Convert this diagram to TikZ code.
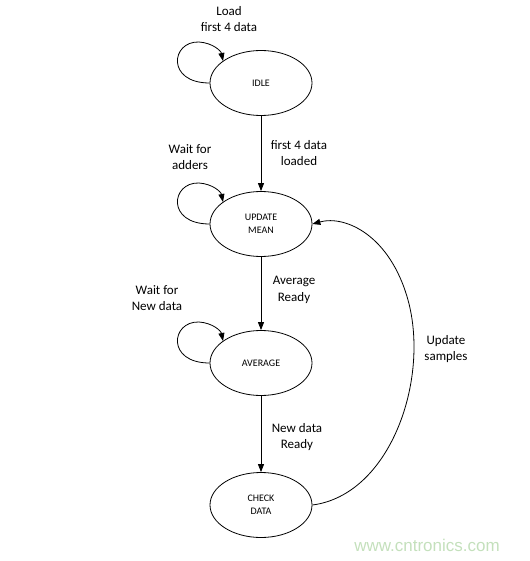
\documentclass[tikz,border=0pt]{standalone}
\usepackage{fontspec}
\setmainfont{Carlito}
\newfontfamily\wmfont{Liberation Sans}
\usetikzlibrary{arrows.meta,shapes.geometric,calc}
\definecolor{wmgreen}{RGB}{196,224,188}
\begin{document}
\begin{tikzpicture}[x=1pt,y=-1pt,
  state/.style={draw,line width=0.8pt,ellipse,minimum width=102pt,minimum height=65pt,inner sep=0pt,align=center,font=\fontsize{10}{13}\selectfont},
  lbl/.style={align=center,font=\fontsize{13}{16.5}\selectfont,inner sep=0pt},
  arr/.style={line width=0.8pt,-{Triangle[length=8pt,width=6pt]}}]
\useasboundingbox (0,0) rectangle (529,561);
\node[state] (idle) at (261,83) {IDLE};
\node[state] (upd) at (261,224) {UPDATE\\MEAN};
\node[state] (avg) at (261,363) {AVERAGE};
\node[state] (chk) at (261,505) {CHECK\\DATA};
\draw[arr] (idle) -- (upd);
\draw[arr] (upd) -- (avg);
\draw[arr] (avg) -- (chk);
\draw[arr] (chk.east) .. controls (390,495) and (430,380) .. (408,300) .. controls (390,235) and (345,215) .. (upd.east);
\foreach \n in {idle,upd,avg}{
  \draw[arr] (\n.west) .. controls ($(\n.center)+(-95,0)$) and ($(\n.center)+(-90,-42)$) .. ($(\n.center)+(-62,-41)$) .. controls ($(\n.center)+(-48,-40)$) and ($(\n.center)+(-40,-32)$) .. ($(\n.center)+(-38,-22)$);
}
\node[lbl] (l1) at (229,19) {Load\\first 4 data};
\node[lbl] (l2) at (190,157) {Wait for\\adders};
\node[lbl] (l3) at (299,153) {first 4 data\\loaded};
\node[lbl] (l4) at (294,290) {Average\\Ready};
\node[lbl] (l5) at (157,298) {Wait for\\New data};
\node[lbl] (l6) at (297,437) {New data\\Ready};
\node[lbl] (l7) at (446,349) {Update\\samples};
\node[font=\wmfont\fontsize{17}{20}\selectfont,text=wmgreen] (wm) at (427,545) {www.cntronics.com};
\end{tikzpicture}
\end{document}
